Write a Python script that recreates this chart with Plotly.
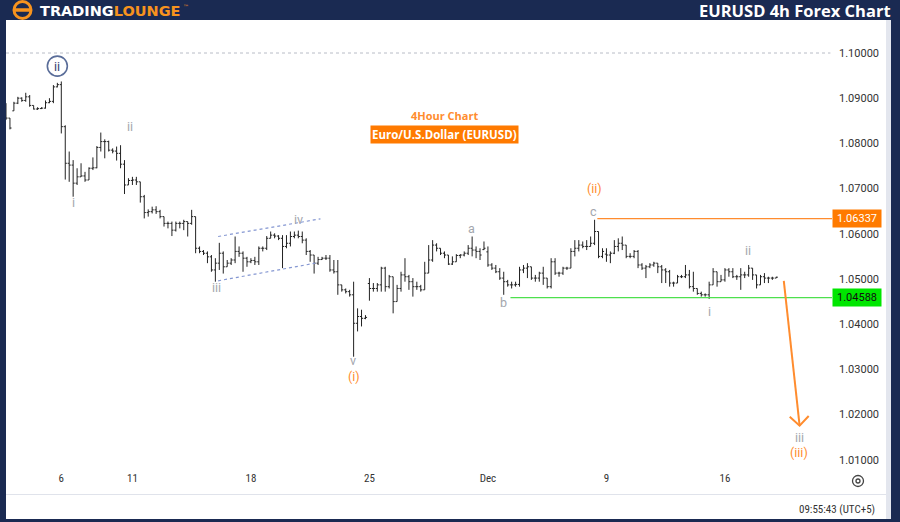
import datetime as dt
import plotly.graph_objects as go

# ---------------- data (EURUSD 4h bars) ----------------
opens = [
    1.0885, 1.0856, 1.0872, 1.0889, 1.0900, 1.0895, 1.0903, 1.0884, 1.0876, 1.0877,
    1.0878, 1.0890, 1.0893, 1.0925, 1.0930, 1.0837, 1.0756, 1.0752, 1.0712, 1.0726,
    1.0728, 1.0719, 1.0745, 1.0746, 1.0791, 1.0804, 1.0804, 1.0785, 1.0783, 1.0778,
    1.0754, 1.0708, 1.0718, 1.0719, 1.0715, 1.0682, 1.0647, 1.0649, 1.0653, 1.0649,
    1.0638, 1.0623, 1.0623, 1.0608, 1.0623, 1.0623, 1.0627, 1.0623, 1.0638, 1.0568,
    1.0561, 1.0557, 1.0549, 1.0520, 1.0535, 1.0557, 1.0527, 1.0535, 1.0542, 1.0561,
    1.0557, 1.0546, 1.0538, 1.0541, 1.0538, 1.0568, 1.0568, 1.0590, 1.0597, 1.0595,
    1.0590, 1.0572, 1.0579, 1.0594, 1.0597, 1.0594, 1.0586, 1.0561, 1.0553, 1.0535,
    1.0543, 1.0546, 1.0546, 1.0520, 1.0516, 1.0487, 1.0476, 1.0472, 1.0465, 1.0402,
    1.0417, 1.0413, 1.0490, 1.0479, 1.0479, 1.0487, 1.0524, 1.0483, 1.0505, 1.0450,
    1.0479, 1.0509, 1.0505, 1.0494, 1.0483, 1.0483, 1.0476, 1.0513, 1.0542, 1.0575,
    1.0568, 1.0557, 1.0553, 1.0533, 1.0538, 1.0552, 1.0553, 1.0557, 1.0568, 1.0564,
    1.0561, 1.0565, 1.0560, 1.0531, 1.0524, 1.0516, 1.0502, 1.0494, 1.0487, 1.0487,
    1.0488, 1.0520, 1.0524, 1.0527, 1.0502, 1.0502, 1.0513, 1.0502, 1.0483, 1.0538,
    1.0513, 1.0513, 1.0524, 1.0524, 1.0561, 1.0568, 1.0575, 1.0572, 1.0572, 1.0579,
    1.0605, 1.0550, 1.0555, 1.0553, 1.0557, 1.0572, 1.0579, 1.0575, 1.0550, 1.0550,
    1.0561, 1.0531, 1.0524, 1.0527, 1.0531, 1.0535, 1.0527, 1.0520, 1.0516, 1.0491,
    1.0491, 1.0505, 1.0505, 1.0509, 1.0483, 1.0479, 1.0468, 1.0465, 1.0465, 1.0487,
    1.0516, 1.0494, 1.0498, 1.0520, 1.0516, 1.0505, 1.0505, 1.0509, 1.0509, 1.0524,
    1.0509, 1.0487, 1.0505, 1.0502, 1.0502, 1.0502,
]
highs = [
    1.0889, 1.0856, 1.0892, 1.0903, 1.0902, 1.0912, 1.0907, 1.0884, 1.0880, 1.0880,
    1.0895, 1.0900, 1.0929, 1.0934, 1.0937, 1.0840, 1.0782, 1.0763, 1.0745, 1.0756,
    1.0737, 1.0747, 1.0769, 1.0794, 1.0824, 1.0809, 1.0806, 1.0789, 1.0793, 1.0796,
    1.0763, 1.0723, 1.0726, 1.0726, 1.0715, 1.0686, 1.0654, 1.0660, 1.0661, 1.0653,
    1.0638, 1.0627, 1.0627, 1.0627, 1.0627, 1.0631, 1.0627, 1.0653, 1.0638, 1.0572,
    1.0564, 1.0561, 1.0553, 1.0546, 1.0580, 1.0561, 1.0542, 1.0546, 1.0594, 1.0572,
    1.0561, 1.0549, 1.0546, 1.0549, 1.0572, 1.0572, 1.0595, 1.0605, 1.0601, 1.0597,
    1.0597, 1.0597, 1.0605, 1.0605, 1.0607, 1.0605, 1.0590, 1.0564, 1.0553, 1.0549,
    1.0549, 1.0553, 1.0553, 1.0542, 1.0542, 1.0487, 1.0479, 1.0476, 1.0494, 1.0435,
    1.0432, 1.0420, 1.0502, 1.0491, 1.0491, 1.0527, 1.0527, 1.0509, 1.0505, 1.0487,
    1.0516, 1.0546, 1.0509, 1.0502, 1.0494, 1.0487, 1.0538, 1.0575, 1.0586, 1.0579,
    1.0568, 1.0561, 1.0553, 1.0550, 1.0555, 1.0555, 1.0561, 1.0575, 1.0594, 1.0572,
    1.0568, 1.0583, 1.0572, 1.0535, 1.0531, 1.0524, 1.0516, 1.0498, 1.0494, 1.0494,
    1.0527, 1.0531, 1.0535, 1.0527, 1.0509, 1.0516, 1.0527, 1.0502, 1.0546, 1.0546,
    1.0516, 1.0527, 1.0527, 1.0568, 1.0586, 1.0586, 1.0583, 1.0586, 1.0594, 1.0631,
    1.0605, 1.0568, 1.0568, 1.0561, 1.0586, 1.0590, 1.0594, 1.0575, 1.0557, 1.0564,
    1.0564, 1.0535, 1.0531, 1.0535, 1.0538, 1.0535, 1.0531, 1.0524, 1.0520, 1.0494,
    1.0509, 1.0509, 1.0531, 1.0520, 1.0516, 1.0479, 1.0472, 1.0468, 1.0494, 1.0524,
    1.0516, 1.0509, 1.0524, 1.0524, 1.0524, 1.0509, 1.0524, 1.0516, 1.0531, 1.0524,
    1.0509, 1.0509, 1.0513, 1.0505, 1.0505, 1.0505,
]
lows = [
    1.0852, 1.0831, 1.0872, 1.0887, 1.0892, 1.0892, 1.0881, 1.0875, 1.0874, 1.0876,
    1.0877, 1.0889, 1.0889, 1.0924, 1.0822, 1.0720, 1.0715, 1.0682, 1.0708, 1.0726,
    1.0715, 1.0719, 1.0741, 1.0745, 1.0782, 1.0767, 1.0782, 1.0778, 1.0762, 1.0745,
    1.0688, 1.0708, 1.0708, 1.0708, 1.0669, 1.0634, 1.0638, 1.0645, 1.0644, 1.0634,
    1.0616, 1.0612, 1.0595, 1.0605, 1.0612, 1.0608, 1.0594, 1.0620, 1.0557, 1.0557,
    1.0553, 1.0535, 1.0516, 1.0494, 1.0520, 1.0512, 1.0527, 1.0531, 1.0535, 1.0549,
    1.0516, 1.0527, 1.0535, 1.0531, 1.0531, 1.0561, 1.0564, 1.0590, 1.0590, 1.0586,
    1.0524, 1.0568, 1.0572, 1.0590, 1.0590, 1.0579, 1.0553, 1.0538, 1.0512, 1.0531,
    1.0542, 1.0542, 1.0516, 1.0512, 1.0465, 1.0472, 1.0468, 1.0461, 1.0328, 1.0384,
    1.0395, 1.0411, 1.0452, 1.0472, 1.0472, 1.0472, 1.0472, 1.0479, 1.0424, 1.0450,
    1.0472, 1.0494, 1.0476, 1.0461, 1.0476, 1.0472, 1.0476, 1.0513, 1.0538, 1.0561,
    1.0553, 1.0546, 1.0531, 1.0531, 1.0538, 1.0546, 1.0550, 1.0553, 1.0550, 1.0546,
    1.0542, 1.0564, 1.0527, 1.0520, 1.0513, 1.0498, 1.0465, 1.0483, 1.0479, 1.0483,
    1.0483, 1.0513, 1.0502, 1.0498, 1.0494, 1.0494, 1.0487, 1.0479, 1.0479, 1.0509,
    1.0505, 1.0509, 1.0520, 1.0524, 1.0550, 1.0561, 1.0568, 1.0564, 1.0572, 1.0575,
    1.0546, 1.0546, 1.0538, 1.0535, 1.0555, 1.0561, 1.0564, 1.0546, 1.0546, 1.0546,
    1.0524, 1.0520, 1.0502, 1.0524, 1.0527, 1.0513, 1.0491, 1.0491, 1.0483, 1.0483,
    1.0491, 1.0502, 1.0502, 1.0479, 1.0472, 1.0465, 1.0461, 1.0461, 1.0456, 1.0487,
    1.0483, 1.0494, 1.0494, 1.0505, 1.0502, 1.0498, 1.0476, 1.0502, 1.0505, 1.0498,
    1.0479, 1.0487, 1.0491, 1.0491, 1.0498, 1.0502,
]
closes = [
    1.0856, 1.0834, 1.0889, 1.0900, 1.0895, 1.0903, 1.0884, 1.0876, 1.0877, 1.0878,
    1.0890, 1.0893, 1.0925, 1.0930, 1.0837, 1.0756, 1.0752, 1.0712, 1.0726, 1.0728,
    1.0719, 1.0745, 1.0746, 1.0791, 1.0804, 1.0804, 1.0785, 1.0783, 1.0778, 1.0754,
    1.0708, 1.0718, 1.0719, 1.0715, 1.0682, 1.0647, 1.0649, 1.0653, 1.0649, 1.0638,
    1.0623, 1.0623, 1.0608, 1.0623, 1.0623, 1.0627, 1.0623, 1.0638, 1.0568, 1.0561,
    1.0557, 1.0549, 1.0520, 1.0535, 1.0557, 1.0527, 1.0535, 1.0542, 1.0561, 1.0557,
    1.0546, 1.0538, 1.0541, 1.0538, 1.0568, 1.0568, 1.0590, 1.0597, 1.0595, 1.0590,
    1.0572, 1.0579, 1.0594, 1.0597, 1.0594, 1.0586, 1.0561, 1.0553, 1.0535, 1.0543,
    1.0546, 1.0546, 1.0520, 1.0516, 1.0487, 1.0476, 1.0472, 1.0465, 1.0402, 1.0417,
    1.0413, 1.0415, 1.0479, 1.0479, 1.0487, 1.0524, 1.0483, 1.0505, 1.0450, 1.0479,
    1.0509, 1.0505, 1.0494, 1.0483, 1.0483, 1.0476, 1.0513, 1.0542, 1.0575, 1.0568,
    1.0557, 1.0553, 1.0533, 1.0538, 1.0552, 1.0553, 1.0557, 1.0568, 1.0564, 1.0561,
    1.0553, 1.0568, 1.0531, 1.0524, 1.0516, 1.0502, 1.0494, 1.0487, 1.0487, 1.0488,
    1.0520, 1.0524, 1.0527, 1.0502, 1.0502, 1.0513, 1.0502, 1.0483, 1.0538, 1.0513,
    1.0513, 1.0524, 1.0524, 1.0561, 1.0568, 1.0575, 1.0572, 1.0572, 1.0579, 1.0605,
    1.0550, 1.0561, 1.0553, 1.0557, 1.0572, 1.0579, 1.0575, 1.0550, 1.0550, 1.0561,
    1.0531, 1.0524, 1.0527, 1.0531, 1.0535, 1.0527, 1.0520, 1.0516, 1.0491, 1.0491,
    1.0505, 1.0505, 1.0509, 1.0483, 1.0479, 1.0468, 1.0465, 1.0465, 1.0487, 1.0516,
    1.0494, 1.0498, 1.0520, 1.0516, 1.0505, 1.0505, 1.0509, 1.0509, 1.0524, 1.0509,
    1.0487, 1.0505, 1.0502, 1.0502, 1.0502, 1.0504,
]

# 4h trading-bar timestamps (weekends skipped), first bar Fri 1 Nov 2024 16:00
first_bar = dt.datetime(2024, 11, 1, 16)
bar_times = []
t = first_bar
while len(bar_times) < len(closes):
    if t.weekday() < 5:
        bar_times.append(t.strftime("%Y-%m-%d %H:%M"))
    t += dt.timedelta(hours=4)
bar_pos = list(range(len(bar_times)))  # sequential bar number (weekend gaps removed)

tick_dates = ["2024-11-06 00:00", "2024-11-11 00:00", "2024-11-18 00:00", "2024-11-25 00:00",
              "2024-12-02 00:00", "2024-12-09 00:00", "2024-12-16 00:00"]
tick_text = ["6", "11", "18", "25", "Dec", "9", "16"]
price_ticks = [1.01, 1.02, 1.03, 1.04, 1.05, 1.06, 1.07, 1.08, 1.09, 1.10]

resistance = 1.06337
support = 1.04588

# wave labels: (text, bar position, price, colour key)
wave_labels = [
    ("ii", 31.5, 1.0838, "grey"), ("i", 17.0, 1.0670, "grey"),
    ("iii", 53.2, 1.0482, "grey"), ("iv", 74.0, 1.0631, "grey"),
    ("v", 87.9, 1.0319, "grey"), ("(i)", 88.2, 1.0285, "orange"),
    ("a", 117.8, 1.0611, "grey"), ("b", 125.9, 1.0447, "grey"),
    ("c", 148.7, 1.0650, "grey"), ("(ii)", 149.0, 1.0701, "orange"),
    ("i", 178.0, 1.0427, "grey"), ("ii", 187.9, 1.0562, "grey"),
    ("iii", 200.8, 1.0150, "grey"), ("(iii)", 200.8, 1.0117, "orange"),
]
circled_label = ("ii", 13.0, 1.0971)
channel_upper = ([53.7, 79.6], [1.0594, 1.0633])
channel_lower = ([53.7, 78.3], [1.0496, 1.0535])
projection = ([196.9, 200.9], [1.0496, 1.01755])
arrow_head = ([198.4, 200.9, 203.2], [1.01953, 1.01755, 1.01969])

# ---------------- styling ----------------
NAVY = "#1a2a52"
ORANGE = "#ff8c2e"
ORANGE_BOX = "#ff7a00"
GREY = "#a3a6ad"
GREEN_LINE = "#4ee04e"
GREEN_BOX = "#00e600"
BAR = "#222222"
X_RANGE = [0.0, 209.1]

PL, PR, PT, PB = 6, 832, 20, 470  # plot area in pixels


def fx(px):
    return (px - PL) / (PR - PL)


def fy(py):
    return (PB - py) / (PB - PT)


fig = go.Figure()
fig.add_trace(go.Ohlc(
    x=bar_pos, open=opens, high=highs, low=lows, close=closes,
    text=bar_times,
    increasing_line_color=BAR, decreasing_line_color=BAR,
    line_width=1, tickwidth=0.4, showlegend=False, hoverinfo="skip",
))

dotted = dict(color="#8597d2", width=1.2, dash="dot")
fig.add_trace(go.Scatter(x=channel_upper[0], y=channel_upper[1], mode="lines",
                         line=dotted, showlegend=False, hoverinfo="skip"))
fig.add_trace(go.Scatter(x=channel_lower[0], y=channel_lower[1], mode="lines",
                         line=dotted, showlegend=False, hoverinfo="skip"))
fig.add_trace(go.Scatter(x=[0, X_RANGE[1] - 0.4], y=[1.10, 1.10], mode="lines",
                         line=dict(color="#b8bcc6", width=1, dash="dot"),
                         showlegend=False, hoverinfo="skip"))
fig.add_trace(go.Scatter(x=[149.7, X_RANGE[1]], y=[resistance, resistance], mode="lines",
                         line=dict(color=ORANGE, width=1.2), showlegend=False, hoverinfo="skip"))
fig.add_trace(go.Scatter(x=[127.7, X_RANGE[1]], y=[support, support], mode="lines",
                         line=dict(color=GREEN_LINE, width=1.2), showlegend=False, hoverinfo="skip"))
fig.add_trace(go.Scatter(x=projection[0], y=projection[1], mode="lines",
                         line=dict(color=ORANGE, width=2), showlegend=False, hoverinfo="skip"))
fig.add_trace(go.Scatter(x=arrow_head[0], y=arrow_head[1], mode="lines",
                         line=dict(color=ORANGE, width=2), showlegend=False, hoverinfo="skip"))
fig.add_trace(go.Scatter(x=[circled_label[1]], y=[circled_label[2]], mode="markers",
                         marker=dict(symbol="circle-open", size=20,
                                     line=dict(color="#5a6d99", width=1.6), color="#5a6d99"),
                         showlegend=False, hoverinfo="skip"))

annotations = []
for text, xv, yv, col in wave_labels:
    annotations.append(dict(
        x=xv, y=yv, xref="x", yref="y", text=text, showarrow=False,
        xanchor="center", yanchor="middle",
        font=dict(family="Roboto, Arial", size=12.5,
                  color=GREY if col == "grey" else ORANGE),
    ))
annotations.append(dict(x=circled_label[1], y=circled_label[2], xref="x", yref="y",
                        text=circled_label[0], showarrow=False,
                        xanchor="center", yanchor="middle",
                        font=dict(family="Roboto, Arial", size=12.5, color="#2f4170")))

# price level boxes on the axis
annotations.append(dict(x=1.0, y=resistance, xref="paper", yref="y", xanchor="left",
                        yanchor="middle",
                        text=f"{resistance:.5f}", showarrow=False, bgcolor=ORANGE_BOX,
                        borderpad=2, width=44,
                        font=dict(family="Roboto, Arial", size=11, color="white")))
annotations.append(dict(x=1.0, y=support, xref="paper", yref="y", xanchor="left",
                        yanchor="middle",
                        text=f"{support:.5f}", showarrow=False, bgcolor=GREEN_BOX,
                        borderpad=2, width=44,
                        font=dict(family="Roboto, Arial", size=11, color="#111111")))


def paper_text(px, py, text, font, xanchor="center", **extra):
    annotations.append(dict(x=fx(px), y=fy(py), xref="paper", yref="paper",
                            xanchor=xanchor, yanchor="middle", text=text,
                            showarrow=False, font=font, **extra))


# chart titles inside the pane
paper_text(444, 115, "<b>4Hour Chart</b>",
           dict(family="Open Sans, Arial", size=11, color=ORANGE))
paper_text(444, 134, "<b>Euro/U.S.Dollar (EURUSD)</b>",
           dict(family="Open Sans, Arial", size=11.5, color="white"),
           bgcolor=ORANGE_BOX, borderpad=1)

# header
paper_text(38, 10.5, "<b>TRADING</b><b><span style='color:#f7931e'>LOUNGE</span></b>",
           dict(family="DejaVu Sans, Arial", size=14.5, color="white"), xanchor="left")
paper_text(186, 6, "™", dict(family="DejaVu Sans, Arial", size=6, color="#f7931e"))
paper_text(893, 10.5, "<b>EURUSD 4h Forex Chart</b>",
           dict(family="Open Sans, Arial", size=16.5, color="white"), xanchor="right")
# clock
paper_text(877, 510, "09:55:43 (UTC+5)",
           dict(family="Roboto Condensed, Roboto, Arial", size=11, color="#333333"),
           xanchor="right")

shapes = [
    # white chart panel
    dict(type="rect", xref="paper", yref="paper", x0=fx(6), x1=fx(886), y0=fy(20), y1=fy(519),
         fillcolor="white", line=dict(width=0), layer="below"),
    dict(type="rect", xref="paper", yref="paper", x0=fx(886), x1=fx(891), y0=fy(20), y1=fy(519),
         fillcolor="#e3e6ee", line=dict(width=0), layer="below"),
    # separator above status row
    dict(type="line", xref="paper", yref="paper", x0=fx(6), x1=fx(886), y0=fy(494.5), y1=fy(494.5),
         line=dict(color="#e0e3eb", width=1)),
    # logo icon
    dict(type="circle", xref="paper", yref="paper", x0=fx(14), x1=fx(31), y0=fy(18.5), y1=fy(1.5),
         line=dict(color="#f7931e", width=3), fillcolor="rgba(0,0,0,0)"),
    dict(type="line", xref="paper", yref="paper", x0=fx(14.5), x1=fx(30.5), y0=fy(10), y1=fy(10),
         line=dict(color="#f7931e", width=3.5)),
    # settings icon
    dict(type="circle", xref="paper", yref="paper", x0=fx(852.5), x1=fx(863.5), y0=fy(486.5), y1=fy(475.5),
         line=dict(color="#444444", width=1.3)),
    dict(type="circle", xref="paper", yref="paper", x0=fx(856), x1=fx(860), y0=fy(483), y1=fy(479),
         line=dict(color="#444444", width=1.3)),
]

tick_pos = [bar_times.index(d) for d in tick_dates]

fig.update_layout(
    width=900, height=522,
    margin=dict(l=PL, r=900 - PR, t=PT, b=522 - PB),
    paper_bgcolor=NAVY, plot_bgcolor="white",
    annotations=annotations, shapes=shapes,
    showlegend=False,
    xaxis=dict(type="linear", range=X_RANGE, tickvals=tick_pos, ticktext=tick_text,
               showgrid=False, zeroline=False, showline=False, ticks="",
               rangeslider=dict(visible=False), fixedrange=True,
               tickfont=dict(family="Roboto Condensed, Roboto, Arial", size=11, color="#333333")),
    yaxis=dict(side="right", range=[1.00774, 1.1073], tickvals=price_ticks, tickformat=".5f",
               showgrid=False, zeroline=False, showline=False, ticks="",
               ticklabelstandoff=6, fixedrange=True,
               tickfont=dict(family="Roboto, Arial", size=11, color="#333333")),
)

fig.write_html("out.html", config={"displayModeBar": False},
               post_script="document.body.style.margin='0';")
